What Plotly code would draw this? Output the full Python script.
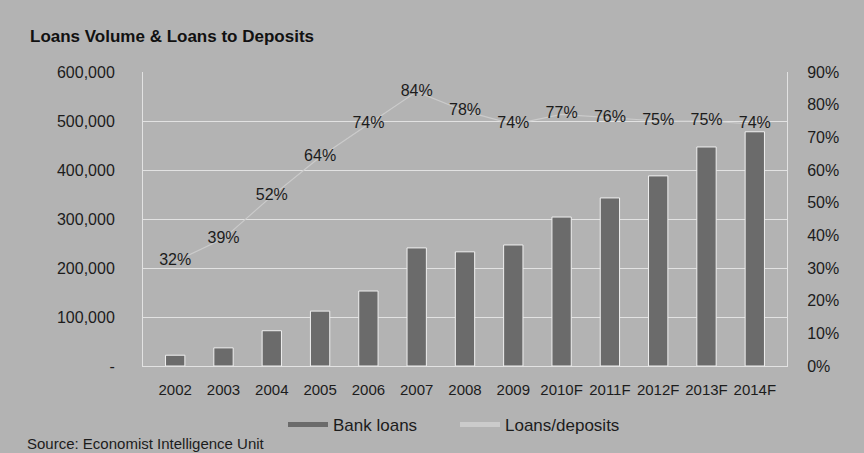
import plotly.graph_objects as go

# Categories and series
years = ["2002", "2003", "2004", "2005", "2006", "2007", "2008", "2009",
         "2010F", "2011F", "2012F", "2013F", "2014F"]
bank_loans = [22000, 37000, 72000, 112000, 153000, 241000, 233000, 247000,
              304000, 343000, 388000, 447000, 478000]
loans_to_deposits = [0.32, 0.39, 0.52, 0.64, 0.74, 0.84, 0.78, 0.74,
                     0.77, 0.76, 0.75, 0.75, 0.74]

left_ticks = [0, 100000, 200000, 300000, 400000, 500000, 600000]
left_tick_text = ["-", "100,000", "200,000", "300,000", "400,000", "500,000", "600,000"]
right_ticks = [0, 0.1, 0.2, 0.3, 0.4, 0.5, 0.6, 0.7, 0.8, 0.9]

BG = "#b3b3b3"
BAR = "#6b6b6b"
LINE = "#cbcbcb"
GRID = "#e2e2e2"
TXT = "#1c1c1c"
FONT = "Arial, Liberation Sans, sans-serif"

W, H = 864, 453

fig = go.Figure()

fig.add_trace(go.Bar(
    x=years, y=bank_loans, name="Bank loans",
    marker=dict(color=BAR, line=dict(color="#f0f0f0", width=1)),
    showlegend=False, yaxis="y",
))

fig.add_trace(go.Scatter(
    x=years, y=loans_to_deposits, name="Loans/deposits",
    mode="lines+text",
    line=dict(color=LINE, width=1.2),
    text=[f"{round(v * 100)}%" for v in loans_to_deposits],
    textposition="middle center",
    textfont=dict(family=FONT, size=16, color=TXT),
    showlegend=False, yaxis="y2", cliponaxis=False,
))

# Legend entries drawn as short thick strokes
fig.add_trace(go.Scatter(
    x=[None], y=[None], mode="lines", name="Bank loans",
    line=dict(color=BAR, width=5), yaxis="y",
))
fig.add_trace(go.Scatter(
    x=[None], y=[None], mode="lines", name="Loans/deposits",
    line=dict(color=LINE, width=5), yaxis="y2",
))

fig.update_layout(
    width=W, height=H,
    margin=dict(l=143, r=77, t=72, b=87, autoexpand=False),
    paper_bgcolor=BG, plot_bgcolor=BG,
    font=dict(family=FONT, color=TXT),
    bargap=0.6,
    title=dict(
        text="<b>Loans Volume & Loans to Deposits</b>",
        x=30 / W, xanchor="left", xref="container",
        y=1 - 36 / H, yanchor="middle", yref="container",
        font=dict(family=FONT, size=17, color="#111111"),
    ),
    xaxis=dict(
        type="category", showgrid=False,
        showline=True, linecolor=GRID, linewidth=1,
        tickfont=dict(family=FONT, size=15, color=TXT),
        ticks="", ticklabelstandoff=10,
    ),
    yaxis=dict(
        range=[0, 600000], tickvals=left_ticks, ticktext=left_tick_text,
        showgrid=True, gridcolor=GRID, gridwidth=1,
        showline=True, linecolor=GRID, linewidth=1,
        zeroline=False,
        tickfont=dict(family=FONT, size=16, color=TXT),
        ticks="", ticklabelstandoff=24,
    ),
    yaxis2=dict(
        range=[0, 0.9], tickvals=right_ticks, tickformat=".0%",
        overlaying="y", side="right", showgrid=False,
        showline=True, linecolor=GRID, linewidth=1,
        zeroline=False,
        tickfont=dict(family=FONT, size=16, color=TXT),
        ticks="", ticklabelstandoff=16,
    ),
    legend=dict(
        orientation="h", x=283 / W, xanchor="left", xref="container",
        y=1 - 425 / H, yanchor="middle", yref="container",
        bgcolor="rgba(0,0,0,0)",
        font=dict(family=FONT, size=17, color=TXT),
        itemwidth=40, entrywidth=117, tracegroupgap=0,
    ),
    annotations=[dict(
        text="Source: Economist Intelligence Unit",
        x=(25 - 143) / 644, y=-(443 - 366) / 294,
        xref="paper", yref="paper",
        xanchor="left", yanchor="middle", showarrow=False,
        font=dict(family=FONT, size=15, color=TXT),
    )],
)

fig.write_html("out.html")
